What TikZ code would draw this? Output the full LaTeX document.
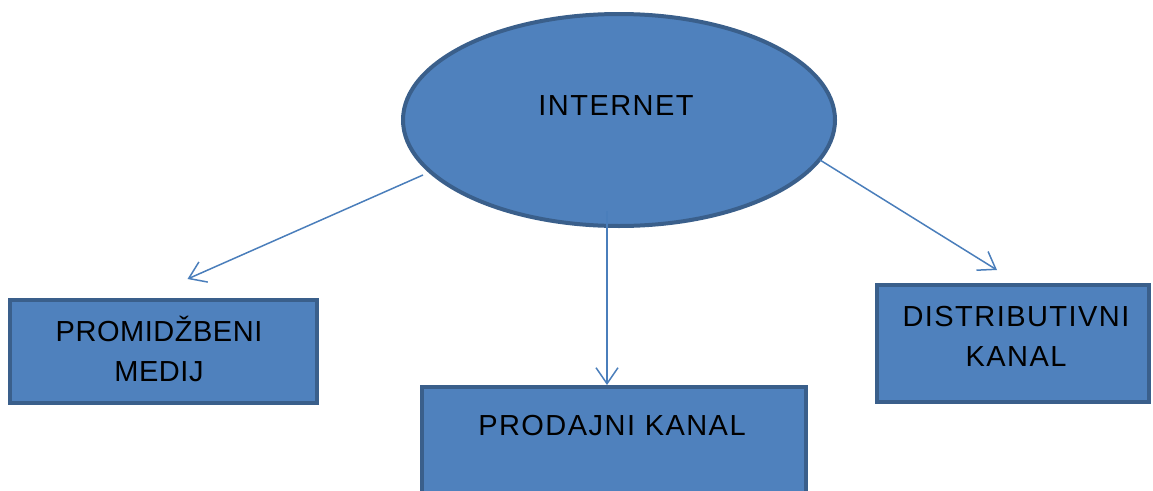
\documentclass[tikz,border=0pt]{standalone}
\usepackage{fontspec}
\setmainfont{Liberation Sans}[LetterSpace=5]
\usetikzlibrary{arrows.meta,shapes.geometric}
\definecolor{boxfill}{HTML}{4F81BD}
\definecolor{boxline}{HTML}{3A5F8B}
\definecolor{arrline}{HTML}{4A7EBB}
\tikzset{
  shapebox/.style={draw=boxline,fill=boxfill,line width=4pt,rectangle,inner sep=0pt,outer sep=0pt},
  shapeoval/.style={draw=boxline,fill=boxfill,line width=4pt,ellipse,inner sep=0pt,outer sep=0pt},
  label text/.style={inner sep=0pt,anchor=base,font=\fontsize{29}{40}\selectfont,text width=320pt,align=center},
  arr/.style={draw=arrline,line width=1.5pt,-{Straight Barb[length=16pt,width=22pt,line width=1.5pt]}}
}
\begin{document}
\begin{tikzpicture}[x=1pt,y=-1pt]
\useasboundingbox (0,0) rectangle (1153,490);
% shapes
\node[shapeoval,minimum width=432pt,minimum height=212pt] (inet) at (619,120) {};
\node[shapebox,minimum width=307pt,minimum height=103pt] (promo) at (163.5,351.5) {};
\node[shapebox,minimum width=384pt,minimum height=113pt] (prod) at (614,443.5) {};
\node[shapebox,minimum width=272pt,minimum height=117pt] (dist) at (1013,343.5) {};
% texts
\node[label text] (tinet) at (616,115) {INTERNET};
\node[label text] (tpromo) at (159,341) {\addfontfeature{LetterSpace=1.8}PROMIDŽBENI\\MEDIJ};
\node[label text] (tprod) at (612,435) {PRODAJNI KANAL};
\node[label text] (tdist) at (1016,326) {DISTRIBUTIVNI\\KANAL};
% connector ends
\coordinate (s1) at ([shift={(-196,55)}]inet.center);
\coordinate (s2) at ([shift={(-12,91)}]inet.center);
\coordinate (s3) at ([shift={(201,40)}]inet.center);
\coordinate (e1) at ([shift={(24,-21)}]promo.north);
\coordinate (e2) at ([shift={(-7,-2)}]prod.north);
\coordinate (e3) at ([shift={(-16,-15)}]dist.north);
\draw[arr] (s1) -- (e1);
\draw[arr] (s2) -- (e2);
\draw[arr] (s3) -- (e3);
\end{tikzpicture}
\end{document}
